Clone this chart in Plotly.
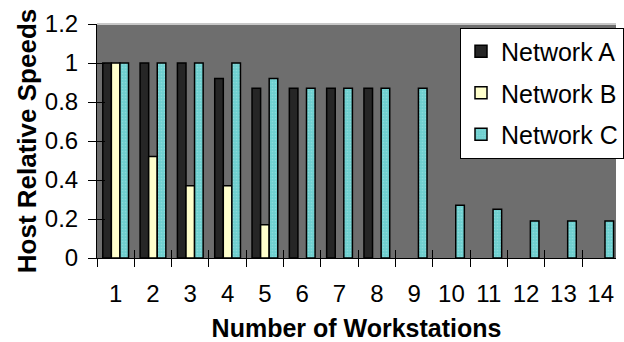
import plotly.graph_objects as go

# Relative host speeds per number of workstations, for three networks
workstations = list(range(1, 15))
network_a = [1.0, 1.0, 1.0, 0.92, 0.87, 0.87, 0.87, 0.87, 0, 0, 0, 0, 0, 0]
network_b = [1.0, 0.52, 0.37, 0.37, 0.17, 0, 0, 0, 0, 0, 0, 0, 0, 0]
network_c = [1.0, 1.0, 1.0, 1.0, 0.92, 0.87, 0.87, 0.87, 0.87, 0.27, 0.25, 0.19, 0.19, 0.19]
y_ticks = [0, 0.2, 0.4, 0.6, 0.8, 1.0, 1.2]
y_tick_text = ["0", "0.2", "0.4", "0.6", "0.8", "1", "1.2"]

FONT = "Arial, Liberation Sans, sans-serif"


def outline(values):
    # empty slots (zero height) get no outline so nothing is drawn there
    return dict(color="black", width=[1.5 if v > 0 else 0 for v in values])


fig = go.Figure()
fig.add_trace(go.Bar(x=workstations, y=network_a, name="Network A",
                     legendgroup="a",
                     marker=dict(color="#262626", line=outline(network_a))))
fig.add_trace(go.Bar(x=workstations, y=network_b, name="Network B",
                     legendgroup="b",
                     marker=dict(color="#FFFFCC", line=outline(network_b))))
fig.add_trace(go.Bar(x=workstations, y=network_c, name="Network C",
                     legendgroup="c",
                     marker=dict(color="#6ECFCF", line=outline(network_c),
                                 pattern=dict(shape=".", fgcolor="#A6E6E6",
                                              size=3, solidity=0.25))))

# category boundaries carry the tick marks (they cross the axis line)
boundaries = [k + 0.5 for k in range(0, 15)]
x_range = [0.5, 14.41]

fig.update_layout(
    width=624, height=342,
    margin=dict(l=97, r=0, t=24, b=84),
    paper_bgcolor="white",
    plot_bgcolor="#6E6E6E",
    barmode="group",
    bargap=0.31,
    bargroupgap=0,
    font=dict(family=FONT, color="black", size=24),
    showlegend=True,
    legend=dict(
        x=0.70, y=0.985, xanchor="left", yanchor="top",
        bgcolor="white", bordercolor="black", borderwidth=1,
        font=dict(family=FONT, size=25, color="black"),
        traceorder="grouped", tracegroupgap=6,
    ),
    xaxis=dict(
        range=x_range, tickmode="array", tickvals=workstations,
        ticktext=[str(w) for w in workstations],
        ticks="", showgrid=False, zeroline=False,
        showline=True, linecolor="black", linewidth=1,
        tickfont=dict(family=FONT, size=24, color="black"),
        ticklabelstandoff=14,
        title=dict(text="<b>Number of Workstations</b>",
                   font=dict(family=FONT, size=25, color="black"),
                   standoff=15),
    ),
    xaxis2=dict(
        overlaying="x", anchor="y", side="bottom", matches="x",
        range=x_range, tickmode="array", tickvals=boundaries,
        ticks="outside", ticklen=8, tickcolor="black", tickwidth=1,
        showticklabels=False, showgrid=False, zeroline=False, showline=False,
    ),
    xaxis3=dict(
        overlaying="x", anchor="y", side="bottom", matches="x",
        range=x_range, tickmode="array", tickvals=boundaries,
        ticks="inside", ticklen=8, tickcolor="black", tickwidth=1,
        showticklabels=False, showgrid=False, zeroline=False, showline=False,
    ),
    yaxis=dict(
        range=[0, 1.2], tickmode="array", tickvals=y_ticks,
        ticktext=y_tick_text,
        ticks="outside", ticklen=8, tickcolor="black", tickwidth=1,
        showgrid=False, zeroline=False,
        showline=True, linecolor="black", linewidth=1,
        tickfont=dict(family=FONT, size=24, color="black"),
        ticklabelstandoff=5,
        title=dict(text="<b>Host Relative Speeds</b>",
                   font=dict(family=FONT, size=26, color="black"),
                   standoff=0),
    ),
    yaxis2=dict(
        overlaying="y", anchor="x", side="left", matches="y",
        range=[0, 1.2], tickmode="array", tickvals=y_ticks,
        ticks="inside", ticklen=8, tickcolor="black", tickwidth=1,
        showticklabels=False, showgrid=False, zeroline=False, showline=False,
    ),
    shapes=[dict(type="line", xref="paper", yref="paper",
                 x0=0, x1=1, y0=1, y1=1,
                 line=dict(color="#C8C8C8", width=2))],
)

# invisible carriers so the extra tick axes get drawn
fig.add_trace(go.Scatter(x=[1], y=[0], xaxis="x2", yaxis="y",
                         mode="markers", marker=dict(opacity=0),
                         showlegend=False, hoverinfo="skip"))
fig.add_trace(go.Scatter(x=[1], y=[0], xaxis="x3", yaxis="y2",
                         mode="markers", marker=dict(opacity=0),
                         showlegend=False, hoverinfo="skip"))

fig.write_html("out.html")
